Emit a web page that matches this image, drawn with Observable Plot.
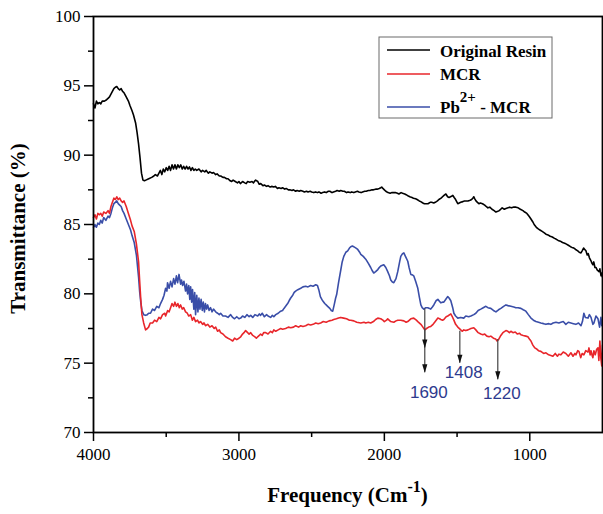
<!DOCTYPE html>
<html><head><meta charset="utf-8">
<script src="https://cdn.jsdelivr.net/npm/d3@7"></script>
<script src="https://cdn.jsdelivr.net/npm/@observablehq/plot@0.6"></script>
<style>body{margin:0;background:#fff} svg{display:block}</style>
</head><body><div id="chart"></div>
<script>
// [frequency (cm-1), transmittance (%)]
const originalResin = [[4000,93.7],[3990,93.4],[3980,93.9],[3970,93.7],[3960,93.8],[3950,93.7],[3940,93.9],[3925,93.9],[3910,94.0],[3900,94.1],[3890,94.2],[3880,94.4],[3870,94.6],[3860,94.8],[3850,94.9],[3840,94.95],[3830,94.8],[3820,94.7],[3810,94.8],[3800,94.6],[3790,94.5],[3775,94.2],[3760,93.9],[3750,93.6],[3735,93.2],[3725,92.9],[3710,92.3],[3700,91.6],[3690,90.8],[3680,89.8],[3670,88.7],[3660,88.2],[3650,88.15],[3640,88.2],[3620,88.3],[3600,88.4],[3585,88.5],[3575,88.6],[3560,88.5],[3550,88.7],[3540,88.9],[3530,88.6],[3520,89.0],[3510,88.8],[3500,89.1],[3490,88.9],[3480,89.2],[3470,88.9],[3460,89.3],[3450,89.0],[3440,89.3],[3430,89.0],[3420,89.3],[3410,89.1],[3400,89.3],[3390,89.0],[3380,89.2],[3370,89.0],[3360,89.2],[3350,89.0],[3340,89.15],[3330,88.9],[3320,89.1],[3310,88.9],[3300,89.0],[3290,88.9],[3275,89.0],[3260,88.8],[3250,88.9],[3235,88.8],[3225,88.9],[3210,88.7],[3200,88.8],[3185,88.7],[3175,88.75],[3160,88.6],[3150,88.65],[3135,88.5],[3125,88.5],[3110,88.4],[3100,88.4],[3085,88.3],[3075,88.3],[3060,88.15],[3050,88.1],[3040,88.2],[3025,88.1],[3010,88.0],[3000,88.1],[2990,87.95],[2975,88.1],[2960,88.0],[2950,87.95],[2940,88.1],[2925,88.05],[2910,88.1],[2900,88.0],[2890,88.15],[2885,88.2],[2870,88.1],[2860,87.9],[2850,87.95],[2835,87.8],[2825,87.85],[2810,87.75],[2800,87.8],[2785,87.7],[2775,87.75],[2760,87.7],[2750,87.75],[2735,87.6],[2725,87.65],[2710,87.6],[2700,87.65],[2685,87.55],[2675,87.6],[2660,87.5],[2650,87.5],[2635,87.45],[2625,87.5],[2610,87.4],[2600,87.45],[2585,87.4],[2575,87.45],[2560,87.4],[2550,87.35],[2535,87.4],[2525,87.35],[2510,87.4],[2500,87.35],[2485,87.3],[2475,87.35],[2460,87.3],[2450,87.35],[2435,87.25],[2425,87.3],[2410,87.35],[2400,87.3],[2385,87.4],[2375,87.4],[2360,87.3],[2350,87.35],[2335,87.4],[2325,87.45],[2310,87.4],[2300,87.45],[2285,87.4],[2275,87.4],[2260,87.3],[2250,87.35],[2235,87.3],[2225,87.35],[2210,87.3],[2200,87.35],[2185,87.4],[2175,87.35],[2160,87.3],[2150,87.35],[2135,87.4],[2125,87.4],[2110,87.45],[2100,87.45],[2085,87.5],[2075,87.5],[2060,87.55],[2050,87.55],[2035,87.6],[2025,87.65],[2018,87.7],[2010,87.6],[2000,87.5],[1990,87.4],[1975,87.3],[1960,87.25],[1950,87.3],[1935,87.3],[1925,87.3],[1910,87.25],[1900,87.2],[1885,87.3],[1875,87.25],[1860,87.2],[1850,87.15],[1835,87.05],[1825,87.0],[1810,86.95],[1800,86.9],[1785,86.85],[1775,86.8],[1760,86.7],[1750,86.65],[1735,86.55],[1725,86.5],[1710,86.5],[1700,86.5],[1685,86.6],[1675,86.6],[1660,86.55],[1650,86.6],[1635,86.7],[1625,86.8],[1610,86.9],[1600,87.0],[1590,87.1],[1577,87.2],[1565,87.0],[1555,86.95],[1545,87.0],[1535,87.05],[1529,87.1],[1520,86.95],[1510,86.8],[1500,86.6],[1495,86.5],[1485,86.55],[1475,86.6],[1460,86.65],[1450,86.7],[1440,86.7],[1425,86.7],[1410,86.75],[1400,86.8],[1392,86.9],[1385,87.0],[1378,86.85],[1370,86.7],[1360,86.6],[1350,86.5],[1340,86.55],[1325,86.5],[1310,86.4],[1300,86.3],[1288,86.2],[1275,86.25],[1260,86.1],[1245,86.0],[1233,85.9],[1220,85.95],[1210,86.0],[1200,86.1],[1190,86.2],[1175,86.1],[1164,86.15],[1150,86.2],[1140,86.25],[1125,86.2],[1109,86.26],[1095,86.25],[1080,86.2],[1065,86.1],[1047,86.0],[1035,85.9],[1020,85.8],[1005,85.6],[992,85.4],[980,85.2],[970,85.0],[955,84.8],[944,84.7],[930,84.6],[915,84.5],[900,84.4],[889,84.3],[875,84.25],[860,84.15],[845,84.1],[830,84.0],[820,83.95],[805,83.85],[790,83.8],[775,83.7],[760,83.65],[751,83.6],[735,83.5],[720,83.4],[710,83.35],[697,83.3],[685,83.2],[670,83.1],[660,83.0],[648,82.95],[640,83.1],[630,83.3],[622,83.2],[614,83.1],[605,82.8],[598,82.9],[590,82.6],[580,82.4],[572,82.2],[566,82.1],[560,82.3],[552,81.9],[545,81.9],[535,81.7],[524,81.6],[518,81.8],[510,81.3],[505,81.5],[500,81.2]];

const mcr = [[4000,85.5],[3990,85.7],[3980,85.4],[3970,85.8],[3960,85.7],[3950,85.8],[3940,85.6],[3930,85.9],[3915,85.8],[3900,86.0],[3890,85.8],[3880,86.3],[3870,86.6],[3860,86.9],[3850,86.8],[3840,87.0],[3830,86.8],[3820,86.9],[3810,86.7],[3800,86.6],[3790,86.7],[3775,86.3],[3760,85.8],[3745,85.3],[3735,84.9],[3720,84.5],[3705,83.6],[3690,82.3],[3683,81.0],[3675,79.6],[3667,78.5],[3655,77.9],[3642,77.4],[3630,77.5],[3621,77.6],[3610,77.9],[3594,77.9],[3580,78.1],[3565,78.0],[3550,78.3],[3539,78.2],[3525,78.5],[3510,78.6],[3504,78.4],[3490,78.8],[3480,78.7],[3470,79.0],[3460,79.3],[3449,79.1],[3440,79.4],[3430,79.1],[3420,79.3],[3410,79.0],[3401,79.2],[3390,78.9],[3380,79.0],[3367,78.7],[3355,78.6],[3345,78.4],[3332,78.5],[3320,78.1],[3310,78.3],[3298,78.0],[3285,78.1],[3275,77.9],[3264,78.0],[3250,77.8],[3240,77.9],[3230,77.7],[3215,77.8],[3200,77.6],[3185,77.7],[3170,77.5],[3160,77.6],[3147,77.3],[3135,77.4],[3126,77.2],[3110,77.1],[3092,76.9],[3075,76.8],[3057,76.7],[3043,76.6],[3030,76.8],[3015,76.7],[3000,76.8],[2988,76.9],[2975,77.1],[2965,77.2],[2954,77.35],[2940,77.2],[2930,77.1],[2919,77.2],[2905,77.0],[2890,76.9],[2880,76.8],[2871,76.9],[2860,77.0],[2851,77.1],[2840,77.0],[2830,77.2],[2816,77.2],[2800,77.1],[2782,77.3],[2770,77.2],[2760,77.4],[2747,77.3],[2730,77.4],[2713,77.5],[2700,77.45],[2679,77.5],[2660,77.6],[2644,77.55],[2625,77.6],[2610,77.7],[2590,77.6],[2575,77.7],[2560,77.65],[2541,77.7],[2525,77.8],[2507,77.75],[2490,77.8],[2472,77.9],[2455,77.85],[2438,77.9],[2420,78.0],[2400,77.95],[2380,78.05],[2360,78.1],[2348,78.15],[2330,78.2],[2315,78.25],[2300,78.3],[2280,78.25],[2260,78.2],[2240,78.1],[2231,78.1],[2210,78.05],[2190,77.95],[2162,77.9],[2140,77.95],[2128,77.9],[2110,77.95],[2094,77.9],[2075,78.0],[2060,78.15],[2045,78.25],[2025,78.2],[2010,78.1],[2000,78.0],[1985,78.1],[1977,78.2],[1956,78.0],[1935,77.95],[1920,78.05],[1908,78.1],[1887,78.1],[1866,78.05],[1850,77.95],[1839,78.0],[1818,78.2],[1798,78.25],[1780,78.1],[1770,78.0],[1749,77.8],[1735,77.6],[1722,77.4],[1710,77.5],[1695,77.6],[1681,77.65],[1665,77.8],[1650,78.0],[1632,78.25],[1620,78.2],[1612,78.15],[1600,78.1],[1591,78.15],[1575,78.35],[1564,78.4],[1550,78.5],[1543,78.55],[1535,78.4],[1522,78.1],[1510,77.8],[1495,77.6],[1480,77.45],[1465,77.3],[1454,77.4],[1440,77.35],[1425,77.4],[1405,77.5],[1385,77.55],[1371,77.4],[1355,77.2],[1337,77.1],[1323,77.05],[1310,77.1],[1295,76.95],[1280,76.9],[1268,76.95],[1250,76.8],[1235,76.75],[1225,76.6],[1215,76.7],[1199,77.0],[1185,77.2],[1164,77.35],[1151,77.3],[1140,77.2],[1130,77.3],[1116,77.2],[1100,77.25],[1085,77.1],[1070,77.15],[1061,77.05],[1045,77.0],[1027,76.95],[1013,76.9],[1000,76.7],[992,76.6],[979,76.3],[965,76.1],[950,76.0],[940,75.9],[924,75.85],[905,75.7],[889,75.75],[870,75.6],[855,75.55],[841,75.5],[825,75.7],[810,75.5],[800,75.65],[786,75.6],[770,75.8],[752,75.7],[735,75.5],[717,75.75],[703,75.5],[690,75.7],[683,75.6],[670,75.9],[662,75.85],[650,75.4],[640,75.7],[628,75.6],[615,75.9],[600,75.8],[593,76.1],[585,75.6],[579,75.9],[570,75.5],[566,75.4],[559,75.9],[550,75.6],[540,76.0],[531,76.1],[525,75.2],[518,76.6],[511,75.3],[505,74.8],[500,76.3]];

const pbMcr = [[4000,84.8],[3990,85.0],[3980,84.8],[3970,85.1],[3960,85.0],[3950,85.3],[3940,85.1],[3930,85.5],[3915,85.3],[3900,85.6],[3890,85.5],[3880,85.8],[3870,86.2],[3860,86.5],[3850,86.6],[3840,86.7],[3830,86.5],[3820,86.4],[3810,86.3],[3800,86.0],[3790,85.8],[3775,85.4],[3760,85.0],[3745,84.6],[3735,84.2],[3720,83.7],[3705,82.8],[3690,81.2],[3683,80.2],[3675,79.4],[3667,78.8],[3655,78.5],[3642,78.45],[3630,78.5],[3621,78.6],[3608,78.6],[3594,78.9],[3580,78.8],[3565,79.1],[3550,79.0],[3539,79.3],[3525,79.6],[3515,79.9],[3504,80.4],[3495,80.2],[3491,80.8],[3480,80.4],[3470,80.9],[3460,80.5],[3449,81.1],[3440,80.7],[3430,81.3],[3422,80.8],[3412,81.4],[3401,80.7],[3395,81.0],[3387,80.6],[3378,80.9],[3367,80.2],[3360,80.7],[3353,80.0],[3345,80.6],[3338,79.6],[3332,80.5],[3325,79.4],[3319,80.3],[3310,78.9],[3304,80.1],[3298,78.5],[3290,79.9],[3282,78.7],[3275,79.7],[3268,78.9],[3260,79.6],[3252,78.8],[3245,79.4],[3237,78.7],[3230,79.3],[3222,78.9],[3215,79.2],[3205,78.8],[3195,79.0],[3185,78.7],[3175,78.9],[3160,78.7],[3147,78.6],[3135,78.5],[3126,78.6],[3110,78.4],[3092,78.4],[3075,78.3],[3057,78.5],[3043,78.3],[3030,78.2],[3015,78.35],[3000,78.2],[2988,78.25],[2975,78.4],[2960,78.3],[2945,78.5],[2930,78.35],[2919,78.45],[2905,78.3],[2890,78.5],[2871,78.4],[2860,78.55],[2851,78.45],[2840,78.6],[2825,78.35],[2810,78.5],[2800,78.4],[2782,78.3],[2770,78.45],[2760,78.35],[2747,78.5],[2730,78.6],[2713,78.75],[2700,78.8],[2690,78.95],[2679,79.1],[2665,79.3],[2655,79.5],[2644,79.7],[2630,79.9],[2620,80.1],[2610,80.2],[2595,80.3],[2575,80.4],[2560,80.5],[2541,80.55],[2525,80.5],[2507,80.6],[2490,80.55],[2472,80.65],[2460,80.6],[2451,80.3],[2440,79.8],[2430,79.6],[2424,79.5],[2410,79.3],[2400,79.2],[2390,79.1],[2375,78.95],[2365,78.8],[2355,78.75],[2345,79.2],[2335,79.7],[2328,79.95],[2315,80.8],[2300,81.7],[2290,82.3],[2279,82.7],[2265,83.0],[2252,83.1],[2240,83.3],[2231,83.4],[2220,83.45],[2211,83.4],[2195,83.3],[2183,83.2],[2170,83.0],[2162,82.85],[2145,82.7],[2128,82.5],[2110,82.2],[2094,81.9],[2085,81.7],[2073,81.5],[2060,81.6],[2045,81.75],[2035,81.9],[2025,82.0],[2004,82.1],[1990,81.9],[1977,81.6],[1965,81.3],[1956,81.0],[1945,80.85],[1935,80.8],[1920,81.1],[1908,81.6],[1895,82.3],[1887,82.7],[1875,82.9],[1866,82.95],[1855,82.7],[1839,82.35],[1830,81.9],[1818,81.4],[1805,81.35],[1798,81.3],[1785,80.9],[1770,80.4],[1760,79.8],[1749,79.2],[1740,79.0],[1729,78.9],[1715,79.0],[1701,79.0],[1690,78.95],[1681,78.9],[1670,79.05],[1660,79.2],[1645,79.5],[1632,79.6],[1620,79.45],[1612,79.35],[1600,79.4],[1591,79.4],[1575,79.65],[1564,79.8],[1555,79.7],[1543,79.5],[1530,79.0],[1522,78.6],[1510,78.4],[1495,78.25],[1475,78.3],[1454,78.25],[1440,78.4],[1420,78.35],[1405,78.4],[1385,78.5],[1371,78.6],[1355,78.8],[1337,78.9],[1320,79.0],[1302,79.1],[1288,79.0],[1268,78.95],[1250,78.8],[1233,78.7],[1215,78.85],[1199,78.95],[1180,79.1],[1164,79.2],[1150,79.15],[1130,79.1],[1110,79.05],[1096,79.0],[1080,79.0],[1061,78.95],[1045,78.85],[1027,78.75],[1010,78.5],[992,78.25],[975,78.1],[958,78.0],[940,77.95],[924,77.9],[905,77.85],[889,77.8],[870,77.85],[855,77.8],[840,77.9],[820,77.95],[800,77.9],[786,77.95],[770,78.0],[752,77.8],[735,77.95],[717,77.9],[700,77.85],[683,77.8],[665,77.9],[648,77.7],[638,78.0],[628,78.6],[618,78.3],[600,78.25],[590,78.5],[579,78.3],[566,77.8],[559,77.9],[545,78.4],[531,78.2],[520,77.6],[511,78.3],[505,77.7],[500,78.1]];

const xMajorTicks = [4000, 3000, 2000, 1000];
const xMinorTicks = [3500, 2500, 1500];
const yMajorTicks = [70, 75, 80, 85, 90, 95, 100];
const yMinorTicks = [72.5, 77.5, 82.5, 87.5, 92.5, 97.5];

// peak annotations
const arrowX = [1722, 1722, 1481, 1220];
const arrowTop = [78.9, 77.4, 77.3, 76.7];
const arrowTip = [76.1, 74.3, 75.0, 73.8];
const peakLabels = ["1690", "1408", "1220"];
const peakLabelX = [1694, 1454, 1192];
const peakLabelY = [72.85, 74.3, 72.8];

const seriesNames = ["Original Resin", "MCR", "Pb2+ - MCR"];
const seriesColors = ["#000000", "#e8262b", "#3a4ea8"];

const arrows = arrowX.map((x, i) => ({x, top: arrowTop[i], tip: arrowTip[i]}));
const labels = peakLabels.map((t, i) => ({t, x: peakLabelX[i], y: peakLabelY[i]}));

const arrowHead = {
  draw(ctx) { ctx.moveTo(0, 0); ctx.lineTo(-2.6, -8.5); ctx.lineTo(2.6, -8.5); ctx.closePath(); }
};

const plain = d => String(d);

const chart = Plot.plot({
  width: 603, height: 514,
  marginLeft: 93, marginRight: 1, marginTop: 16, marginBottom: 82,
  style: {fontFamily: "'Liberation Serif', 'Times New Roman', serif", fontSize: "17px", color: "black", background: "white"},
  x: {domain: [4000, 500]},
  y: {domain: [70, 100]},
  marks: [
    Plot.axisX(xMajorTicks, {tickSize: 9, tickPadding: 6, strokeWidth: 1.5, label: null, fontSize: 17, tickFormat: plain}),
    Plot.axisX(xMinorTicks, {tickSize: 5, tickFormat: () => "", strokeWidth: 1.5, label: null}),
    Plot.axisY(yMajorTicks, {tickSize: 9, tickPadding: 4, strokeWidth: 1.5, label: null, fontSize: 17, tickFormat: plain}),
    Plot.axisY(yMinorTicks, {tickSize: 5, tickFormat: () => "", strokeWidth: 1.5, label: null}),
    Plot.line(originalResin, {x: d => d[0], y: d => d[1], stroke: seriesColors[0], strokeWidth: 1.6}),
    Plot.line(pbMcr, {x: d => d[0], y: d => d[1], stroke: seriesColors[2], strokeWidth: 1.6}),
    Plot.line(mcr, {x: d => d[0], y: d => d[1], stroke: seriesColors[1], strokeWidth: 1.6}),
    Plot.ruleX(arrows, {x: "x", y1: "top", y2: "tip", stroke: "#444", strokeWidth: 1.2}),
    Plot.dot(arrows, {x: "x", y: "tip", symbol: arrowHead, fill: "#111", stroke: "none"}),
    Plot.text(labels, {x: "x", y: "y", text: "t", fill: "#2e3a8e", fontSize: 17, fontFamily: "'Liberation Sans', Arial, sans-serif"}),
    Plot.frame({stroke: "black", strokeWidth: 1.8})
  ]
});

document.getElementById("chart").appendChild(chart);

const svg = d3.select(chart);
const serif = "'Liberation Serif', 'Times New Roman', serif";

// axis titles
const xt = svg.append("text").attr("x", 347.5).attr("y", 502).attr("text-anchor", "middle")
  .attr("font-family", serif).attr("font-weight", "bold").attr("font-size", 21).attr("fill", "black");
xt.append("tspan").text("Frequency (Cm");
xt.append("tspan").attr("dy", -10).attr("font-size", 16).text("-1");
xt.append("tspan").attr("dy", 10).text(")");

svg.append("text").attr("transform", "translate(25,228.5) rotate(-90)").attr("text-anchor", "middle")
  .attr("font-family", serif).attr("font-weight", "bold").attr("font-size", 21).attr("fill", "black")
  .text("Transmittance (%)");

// legend
const lg = svg.append("g");
lg.append("rect").attr("x", 379).attr("y", 37).attr("width", 173).attr("height", 81)
  .attr("fill", "white").attr("stroke", "#6a6a6a").attr("stroke-width", 1);
const rowY = [50, 74, 107];
const textY = [56.5, 80, 113];
seriesNames.forEach((name, i) => {
  lg.append("line").attr("x1", 387).attr("x2", 430).attr("y1", rowY[i]).attr("y2", rowY[i])
    .attr("stroke", seriesColors[i]).attr("stroke-width", 1.5);
  const t = lg.append("text").attr("x", 440).attr("y", textY[i]).attr("text-anchor", "start")
    .attr("font-family", serif).attr("font-weight", "bold").attr("font-size", 17).attr("fill", "black");
  if (name.startsWith("Pb")) {
    t.append("tspan").text("Pb");
    t.append("tspan").attr("dy", -11).attr("font-size", 15).text("2+");
    t.append("tspan").attr("dy", 11).text(" - MCR");
  } else {
    t.text(name);
  }
});
</script>
</body></html>
